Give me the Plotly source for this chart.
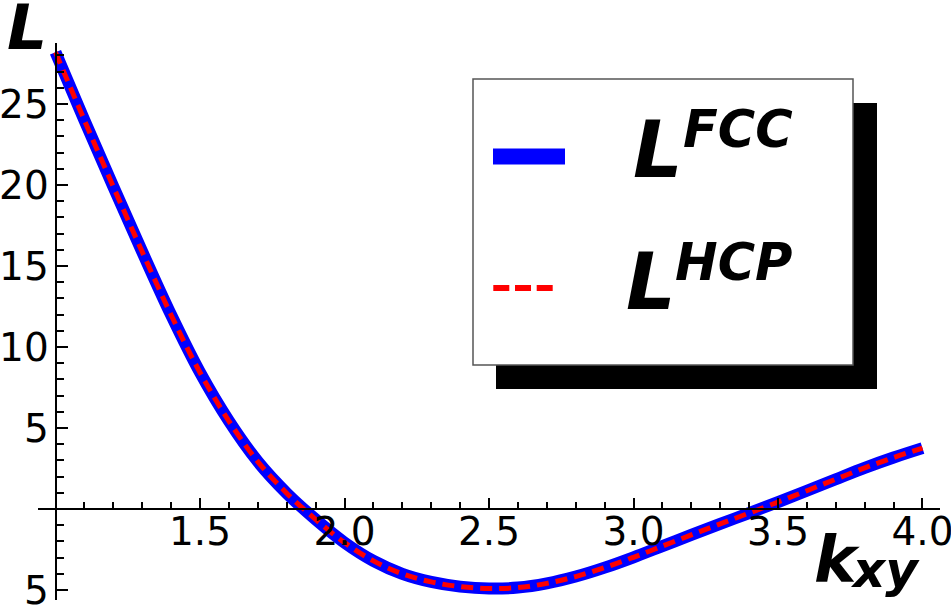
import plotly.graph_objects as go

# Lattice sums versus in-plane wave number
k_xy = [1.0, 1.1, 1.2, 1.3, 1.4, 1.5, 1.6, 1.7, 1.8, 1.9,
        2.0, 2.1, 2.2, 2.3, 2.4, 2.5, 2.6, 2.7, 2.8, 2.9,
        3.0, 3.1, 3.2, 3.3, 3.4, 3.5, 3.6, 3.7, 3.8, 3.9, 4.0]
l_fcc = [28.2, 24.0, 19.9, 15.88, 11.98, 8.43, 5.43, 2.93, 0.98, -0.64,
         -2.07, -3.2, -4.0, -4.5, -4.79, -4.91, -4.85, -4.59, -4.17, -3.62,
         -2.98, -2.29, -1.60, -0.92, -0.25, 0.43, 1.13, 1.84, 2.54, 3.18, 3.76]
l_hcp = [28.2, 24.0, 19.9, 15.88, 11.98, 8.43, 5.43, 2.93, 0.98, -0.64,
         -2.07, -3.2, -4.0, -4.5, -4.79, -4.91, -4.85, -4.59, -4.17, -3.62,
         -2.98, -2.29, -1.60, -0.92, -0.25, 0.43, 1.13, 1.84, 2.54, 3.18, 3.76]

x_tickvals = [1.5, 2.0, 2.5, 3.0, 3.5, 4.0]
x_ticktext = ["1.5", "2.0", "2.5", "3.0", "3.5", "4.0"]
y_tickvals = [-5, 5, 10, 15, 20, 25]
y_ticktext = ["5", "5", "10", "15", "20", "25"]

W, H = 951, 610
X_RANGE = [0.9394, 4.0606]
Y_RANGE = [-5.617, 28.77]
X_DOM = [38 / W, 940 / W]
Y_DOM = [10 / H, 567 / H]


def px(x):
    return x / W


def py(y):
    return 1 - y / H


def paper_x(v):
    return X_DOM[0] + (v - X_RANGE[0]) / (X_RANGE[1] - X_RANGE[0]) * (X_DOM[1] - X_DOM[0])


def paper_y(v):
    return Y_DOM[0] + (v - Y_RANGE[0]) / (Y_RANGE[1] - Y_RANGE[0]) * (Y_DOM[1] - Y_DOM[0])


FONT = "DejaVu Sans"
tick_font = dict(family=FONT, size=39, color="black")

fig = go.Figure()
fig.add_trace(go.Scatter(x=k_xy, y=l_fcc, mode="lines", name="FCC",
                         line=dict(color="#0000ff", width=12, shape="spline")))
fig.add_trace(go.Scatter(x=k_xy, y=l_hcp, mode="lines", name="HCP",
                         line=dict(color="#ff0000", width=5, shape="spline", dash="12px,7px")))

fig.update_layout(
    width=W, height=H, autosize=False,
    margin=dict(l=0, r=0, t=0, b=0, pad=0),
    paper_bgcolor="white", plot_bgcolor="white",
    showlegend=False,
    xaxis=dict(range=X_RANGE, domain=X_DOM, anchor="free", position=paper_y(0),
               showgrid=False, zeroline=False, showline=True, linecolor="black", linewidth=2,
               ticks="inside", ticklen=10, tickwidth=2, tickcolor="black",
               tickmode="array", tickvals=x_tickvals, ticktext=x_ticktext,
               tickfont=tick_font, ticklabeloverflow="allow", automargin=False,
               ticklabelstandoff=-12,
               minor=dict(ticks="inside", ticklen=6, tickwidth=2, tickcolor="black",
                          tickmode="linear", tick0=1.0, dtick=0.1, showgrid=False)),
    yaxis=dict(range=Y_RANGE, domain=Y_DOM, anchor="free", position=paper_x(1.0),
               showgrid=False, zeroline=False, showline=True, linecolor="black", linewidth=2,
               ticks="inside", ticklen=11, tickwidth=2, tickcolor="black",
               tickmode="array", tickvals=y_tickvals, ticktext=y_ticktext,
               tickfont=tick_font, ticklabeloverflow="allow", automargin=False,
               ticklabelstandoff=-2,
               minor=dict(ticks="inside", ticklen=7, tickwidth=2, tickcolor="black",
                          tickmode="linear", tick0=0, dtick=1, showgrid=False)),
)

# Legend panel with drop shadow
shapes = [
    dict(type="rect", xref="paper", yref="paper", layer="above",
         x0=px(496), x1=px(877), y0=py(389), y1=py(103),
         fillcolor="black", line=dict(width=0)),
    dict(type="rect", xref="paper", yref="paper", layer="above",
         x0=px(473), x1=px(853), y0=py(365), y1=py(79),
         fillcolor="white", line=dict(color="#555555", width=1.5)),
    dict(type="line", xref="paper", yref="paper", layer="above",
         x0=px(493), x1=px(565), y0=py(156.5), y1=py(156.5),
         line=dict(color="#0000ff", width=16)),
    dict(type="line", xref="paper", yref="paper", layer="above",
         x0=px(493.3), x1=px(552.7), y0=py(288), y1=py(288),
         line=dict(color="#ff0000", width=6, dash="16px,5.7px")),
]
fig.update_layout(shapes=shapes)


def label(text, x, y, size):
    return dict(text="<b><i>%s</i></b>" % text, xref="paper", yref="paper",
                x=px(x), y=py(y), xanchor="left", yanchor="middle",
                showarrow=False, borderpad=0, borderwidth=0,
                font=dict(family=FONT, size=size, color="black"))


fig.update_layout(annotations=[
    label("L", 7, 27, 63),
    label("k", 814, 560, 64),
    label("xy", 850, 570, 50),
    label("L", 633, 150, 78),
    label("FCC", 683, 129, 51),
    label("L", 626, 282, 78),
    label("HCP", 675, 262, 51),
])

fig.write_html("out.html")
